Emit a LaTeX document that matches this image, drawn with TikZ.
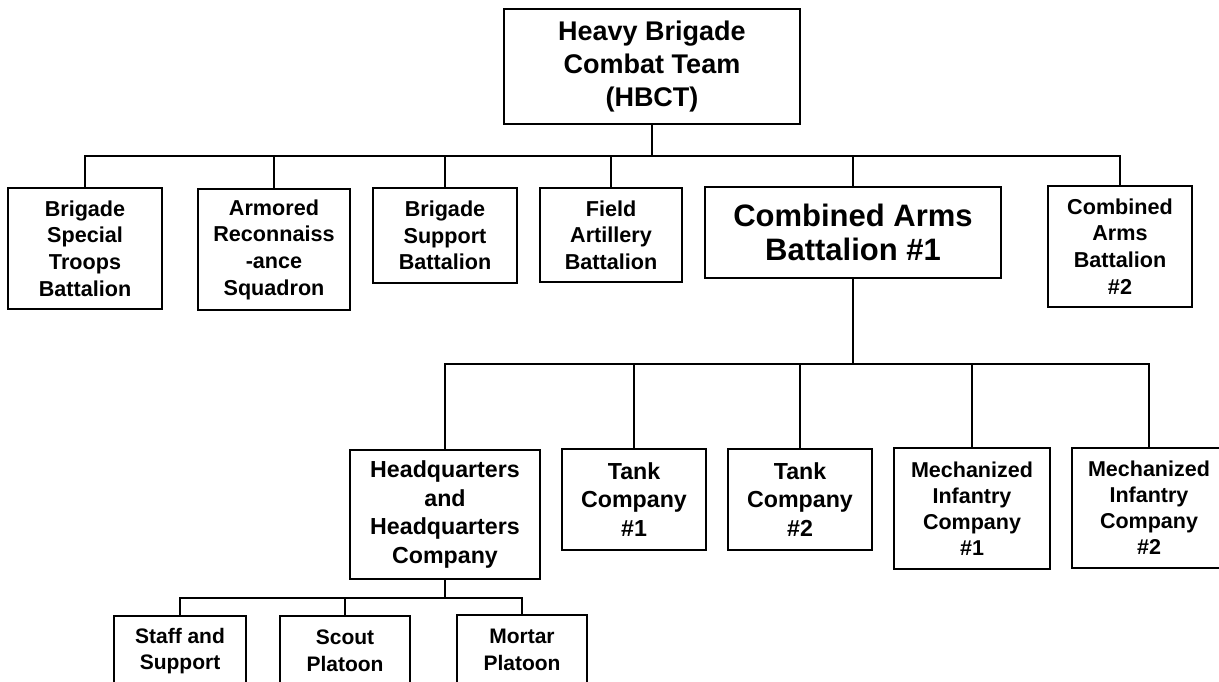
\documentclass[tikz,border=0pt]{standalone}
\usepackage{fontspec}
\setmainfont{Liberation Sans}
\tikzset{
  box/.style={draw, line width=1.5pt, align=center, inner sep=0pt, font=\bfseries},
  conn/.style={line width=1.5pt},
  fA/.style={font=\fontsize{21.6pt}{26.7pt}\selectfont\bfseries},
  fTop/.style={font=\fontsize{27pt}{33pt}\selectfont\bfseries},
  fBig/.style={font=\fontsize{31pt}{33.5pt}\selectfont\bfseries},
  fB/.style={font=\fontsize{23.2pt}{28.4pt}\selectfont\bfseries},
  fC/.style={font=\fontsize{21.5pt}{26pt}\selectfont\bfseries},
  fD/.style={font=\fontsize{21pt}{26.7pt}\selectfont\bfseries},
}
\begin{document}
\begin{tikzpicture}[x=1pt,y=-1pt]
\useasboundingbox (0,0) rectangle (1219,681);
% level 0
\node[box,fTop,minimum width=296pt,minimum height=115pt] (top) at (652,66.5) {Heavy Brigade\\Combat Team\\(HBCT)};
% level 1
\node[box,fA,minimum width=154pt,minimum height=121pt] (bst) at (85,248.5) {Brigade\\Special\\Troops\\Battalion};
\node[box,fA,minimum width=152pt,minimum height=121pt] (ars) at (274,249.5) {Armored\\Reconnaiss\\-ance\\Squadron};
\node[box,fA,minimum width=144pt,minimum height=95pt] (bsb) at (445,235.5) {Brigade\\Support\\Battalion};
\node[box,fA,minimum width=142pt,minimum height=94pt] (fab) at (611,235) {Field\\Artillery\\Battalion};
\node[box,fBig,minimum width=296pt,minimum height=91pt] (cab1) at (853,232.5) {Combined Arms\\Battalion \#1};
\node[box,fA,minimum width=144pt,minimum height=121pt] (cab2) at (1120,246.5) {Combined\\Arms\\Battalion\\\#2};
% level 2
\node[box,fB,minimum width=190pt,minimum height=129pt] (hq) at (445,514.5) {Headquarters\\and\\Headquarters\\Company};
\node[box,fB,minimum width=144pt,minimum height=101pt] (tank1) at (634,499.5) {Tank\\Company\\\#1};
\node[box,fB,minimum width=144pt,minimum height=101pt] (tank2) at (800,499.5) {Tank\\Company\\\#2};
\node[box,fC,minimum width=156pt,minimum height=121pt] (mech1) at (972,508.5) {Mechanized\\Infantry\\Company\\\#1};
\node[box,fC,minimum width=154pt,minimum height=120pt] (mech2) at (1149,508) {Mechanized\\Infantry\\Company\\\#2};
% level 3
\node[box,fD,minimum width=132pt,minimum height=70pt] (staff) at (180,651) {Staff and\\Support};
\node[box,fD,minimum width=130pt,minimum height=70pt] (scout) at (345,651) {Scout\\Platoon};
\node[box,fD,minimum width=130pt,minimum height=70pt] (mortar) at (522,650) {Mortar\\Platoon};
% connectors level 0 -> 1
\coordinate (bus1) at (652,156);
\draw[conn] (top.south) -- (bus1);
\draw[conn] (bst.north) |- (bus1) -| (cab2.north);
\draw[conn] (ars.north) -- (ars.north |- bus1);
\draw[conn] (bsb.north) -- (bsb.north |- bus1);
\draw[conn] (fab.north) -- (fab.north |- bus1);
\draw[conn] (cab1.north) -- (cab1.north |- bus1);
% connectors level 1 -> 2
\coordinate (bus2) at (853,364);
\draw[conn] (cab1.south) -- (bus2);
\draw[conn] (hq.north) |- (bus2) -| (mech2.north);
\draw[conn] (tank1.north) -- (tank1.north |- bus2);
\draw[conn] (tank2.north) -- (tank2.north |- bus2);
\draw[conn] (mech1.north) -- (mech1.north |- bus2);
% connectors level 2 -> 3
\coordinate (bus3) at (445,598);
\draw[conn] (hq.south) -- (bus3);
\draw[conn] (staff.north) |- (bus3) -| (mortar.north);
\draw[conn] (scout.north) -- (scout.north |- bus3);
\end{tikzpicture}
\end{document}
